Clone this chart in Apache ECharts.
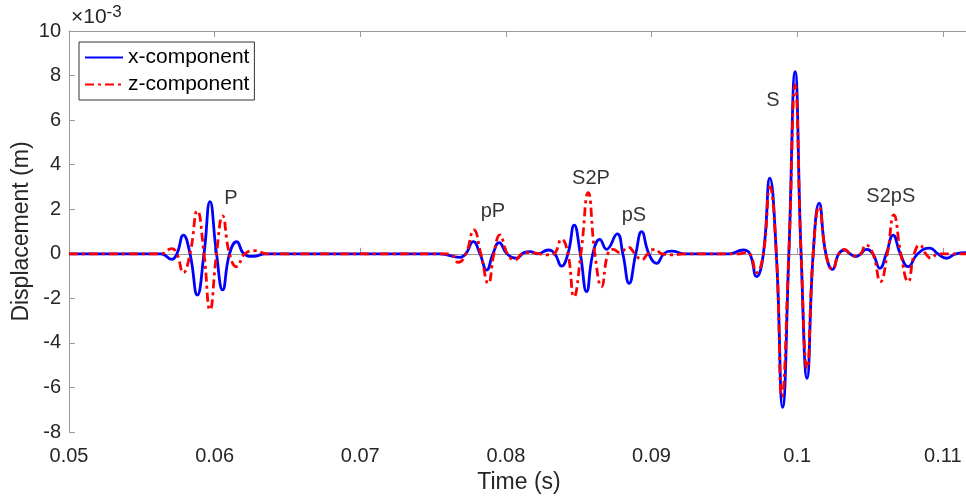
<!DOCTYPE html>
<html>
<head>
<meta charset="utf-8">
<script src="https://cdn.jsdelivr.net/npm/echarts@6/dist/echarts.min.js"></script>
<style>
  html, body { margin: 0; padding: 0; background: #fff; }
  #chart { width: 966px; height: 501px; }
</style>
</head>
<body>
<div id="chart"></div>
<script>
// Displacement in units of 1e-3 m, time in seconds.
const xTimes = [
  0.05, 0.05632, 0.05705, 0.05741, 0.05785, 0.05831, 0.05881, 0.05927, 0.05968,
  0.06013, 0.06055, 0.06102, 0.06151, 0.06201, 0.06263, 0.06352,
  0.07547, 0.07684, 0.07725, 0.07776, 0.07822, 0.07868, 0.07911, 0.07954, 0.08007,
  0.08074, 0.08124, 0.08165, 0.08220, 0.08290, 0.08336, 0.08382, 0.08426, 0.08469,
  0.08511, 0.08554, 0.08597, 0.08645, 0.08691, 0.08764, 0.08803, 0.08846, 0.08892,
  0.08932, 0.08982, 0.09035, 0.09085, 0.09140, 0.09229,
  0.09538, 0.09629, 0.09675, 0.09721, 0.09768, 0.09812, 0.09857, 0.09900, 0.09943,
  0.09986, 0.10027, 0.10068, 0.10110, 0.10151, 0.10197, 0.10243, 0.10286, 0.10327,
  0.10362, 0.10403, 0.10437, 0.10476, 0.10520, 0.10568, 0.10612, 0.10659, 0.10708,
  0.10762, 0.10828, 0.10911, 0.10966, 0.11025, 0.11089, 0.11158, 0.1118
];
const xValues = [
  0, 0, -0.25, 0, 0.84, 0, -1.85, 0, 2.34,
  0, -1.62, 0, 0.54, 0, -0.12, 0,
  0, -0.16, 0, 0.55, 0, -0.73, 0, 0.5, 0,
  -0.2, 0.05, 0.1, 0, 0.17, 0, -0.55, 0, 1.29,
  0, -1.7, 0, 0.65, 0.2, 0.89, 0, -1.33, 0,
  0.99, 0, -0.43, 0, 0.12, 0,
  0, 0.17, 0, -1.03, 0, 3.39, 0, -6.89, 0,
  8.17, 0, -5.59, 0, 2.27, 0, -0.7, 0, 0.17,
  0, -0.13, 0, 0.2, 0, -0.65, 0, 0.84, 0,
  -0.58, 0, 0.25, 0, -0.2, 0, 0.05, 0.05
];

const zTimes = [
  0.05, 0.05632, 0.05705, 0.05741, 0.05785, 0.05831, 0.05881, 0.05927, 0.05968,
  0.06013, 0.06055, 0.06102, 0.06151, 0.06208, 0.06277, 0.06359,
  0.07513, 0.07616, 0.07673, 0.07725, 0.07780, 0.07828, 0.07879, 0.07918, 0.07959,
  0.08010, 0.08062, 0.08110, 0.08151, 0.08233, 0.08288, 0.08330, 0.08382, 0.08426,
  0.08467, 0.08515, 0.08565, 0.08611, 0.08657, 0.08700, 0.08737, 0.08783, 0.08840,
  0.08886, 0.08932, 0.08975, 0.09023, 0.09071, 0.09140, 0.09229,
  0.09606, 0.09641, 0.09675, 0.09721, 0.09768, 0.09812, 0.09857, 0.09895, 0.09943,
  0.09986, 0.10027, 0.10068, 0.10110, 0.10151, 0.10197, 0.10243, 0.10286, 0.10327,
  0.10362, 0.10403, 0.10437, 0.10471, 0.10520, 0.10572, 0.10619, 0.10664, 0.10712,
  0.10762, 0.10804, 0.10842, 0.10883, 0.10922, 0.10966, 0.1118
];
const zValues = [
  0, 0, 0.23, 0, -0.85, 0, 1.93, 0, -2.52,
  0, 1.7, 0, -0.58, 0, 0.14, 0,
  0, 0, -0.39, 0, 1.07, 0, -1.33, 0, 0.85,
  0, -0.28, 0, 0.05, 0, -0.05, 0, 0.65, 0,
  -1.93, 0, 2.74, 0, -1.48, 0, 0.2, 0.05, 0.3,
  0, -0.27, 0, 0.2, 0, -0.05, 0,
  0, 0.05, 0, -0.85, 0, 3.0, 0, -6.41, 0,
  7.58, 0, -5.14, 0, 2.11, 0, -0.7, 0, 0.2,
  0, -0.1, 0, 0.4, 0, -1.25, 0, 1.74, 0,
  -1.25, 0, 0.4, 0, -0.2, 0, 0
];

// Phase labels placed at [time, displacement]
const phaseNames = ['P', 'pP', 'S2P', 'pS', 'S', 'S2pS'];
const phaseTimes = [0.06112, 0.07911, 0.08584, 0.08879, 0.09833, 0.10643];
const phaseValues = [2.46, 1.92, 3.40, 1.70, 6.86, 2.55];

const yTicks = { min: -8, max: 10, step: 2 };
const xRange = { min: 0.05, max: 0.1118, step: 0.01 };

const FONT = '"Liberation Sans", Arial, Helvetica, sans-serif';
const AXIS_GRAY = '#9a9a9a';
const TEXT = '#262626';

const zip = (a, b) => a.map((v, i) => [v, b[i]]);

const chart = echarts.init(document.getElementById('chart'), null, { renderer: 'canvas' });

const axisCommon = {
  axisLine: { show: true, lineStyle: { color: AXIS_GRAY, width: 1 } },
  axisTick: { show: true, inside: true, length: 6, lineStyle: { color: AXIS_GRAY } },
  splitLine: { show: false }
};

chart.setOption({
  animation: false,
  backgroundColor: '#fff',
  textStyle: { fontFamily: FONT },
  grid: {
    left: 69, top: 31, width: 900, height: 401,
    containLabel: false,
    outerBoundsMode: 'none'
  },
  legend: {
    orient: 'vertical',
    left: 79,
    top: 42,
    itemWidth: 38,
    itemHeight: 14,
    itemGap: 4,
    padding: [4, 5, 4, 5],
    borderColor: '#333',
    borderWidth: 1,
    backgroundColor: '#fff',
    itemStyle: { opacity: 0 },
    textStyle: { fontFamily: FONT, fontSize: 21, color: '#000', lineHeight: 23 },
    data: ['x-component', 'z-component']
  },
  xAxis: [
    Object.assign({
      type: 'value',
      min: xRange.min, max: xRange.max, interval: xRange.step,
      position: 'bottom',
      name: 'Time (s)',
      nameLocation: 'middle',
      nameGap: 39,
      nameMoveOverlap: false,
      nameTextStyle: { fontFamily: FONT, fontSize: 23, color: TEXT },
      axisLabel: {
        fontFamily: FONT, fontSize: 20, color: TEXT, margin: 14,
        showMaxLabel: false,
        formatter: v => String(+v.toFixed(4))
      }
    }, axisCommon),
    Object.assign({
      type: 'value',
      min: xRange.min, max: xRange.max, interval: xRange.step,
      position: 'top',
      axisLabel: { show: false }
    }, axisCommon)
  ],
  yAxis: [
    Object.assign({
      type: 'value',
      min: yTicks.min, max: yTicks.max, interval: yTicks.step,
      position: 'left',
      name: 'Displacement (m)',
      nameLocation: 'middle',
      nameGap: 36,
      nameMoveOverlap: false,
      nameTextStyle: { fontFamily: FONT, fontSize: 23, color: TEXT },
      axisLabel: { fontFamily: FONT, fontSize: 20, color: TEXT, margin: 8 }
    }, axisCommon)
  ],
  graphic: [
    {
      type: 'text',
      left: 71,
      top: 4,
      style: {
        text: '{a|×10}{b|-3}',
        rich: {
          a: { fontFamily: FONT, fontSize: 21, fill: TEXT, verticalAlign: 'bottom', lineHeight: 24 },
          b: { fontFamily: FONT, fontSize: 17, fill: TEXT, verticalAlign: 'top', lineHeight: 24, padding: [0, 0, 9, 0] }
        }
      }
    }
  ],
  series: [
    {
      name: 'x-component',
      type: 'line',
      data: zip(xTimes, xValues),
      smooth: 0.5,
      symbol: 'none',
      color: '#0000ff',
      lineStyle: { color: '#0000ff', width: 2.8 },
      z: 2
    },
    {
      name: 'z-component',
      type: 'line',
      data: zip(zTimes, zValues),
      smooth: 0.5,
      symbol: 'none',
      color: '#ff0000',
      lineStyle: { color: '#ff0000', width: 2.8, type: [9, 4, 3, 4] },
      z: 3
    },
    {
      name: 'phases',
      type: 'scatter',
      data: zip(phaseTimes, phaseValues).map((p, i) => ({ value: p, name: phaseNames[i] })),
      symbolSize: 0,
      silent: true,
      label: {
        show: true,
        position: 'inside',
        formatter: p => p.name,
        fontFamily: FONT,
        fontSize: 20,
        color: '#000'
      },
      z: 5
    }
  ]
});
</script>
</body>
</html>
